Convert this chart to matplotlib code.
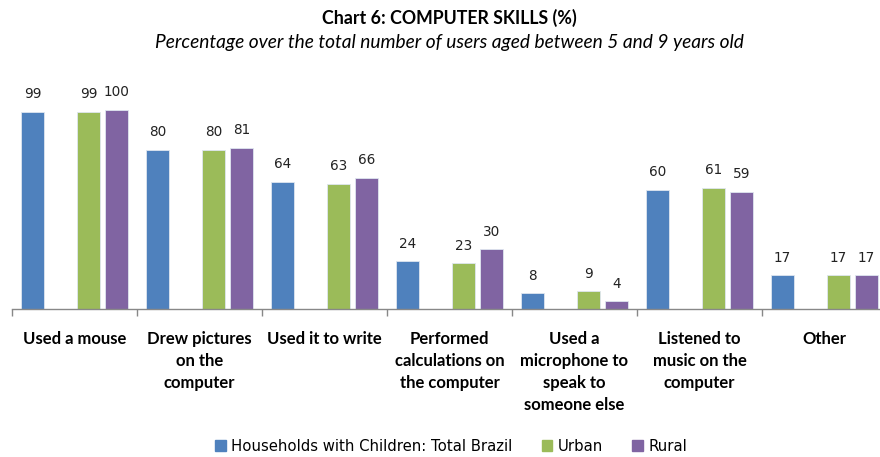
import matplotlib
matplotlib.use("Agg")
import matplotlib.pyplot as plt
import numpy as np

categories = [
    "Used a mouse",
    "Drew pictures\non the\ncomputer",
    "Used it to write",
    "Performed\ncalculations on\nthe computer",
    "Used a\nmicrophone to\nspeak to\nsomeone else",
    "Listened to\nmusic on the\ncomputer",
    "Other",
]
series_names = ["Households with Children: Total Brazil", "Urban", "Rural"]
total_brazil = [99, 80, 64, 24, 8, 60, 17]
urban = [99, 80, 63, 23, 9, 61, 17]
rural = [100, 81, 66, 30, 4, 59, 17]

colors = ["#4F81BD", "#9BBB59", "#8064A2"]
slots = [0, 2, 3]          # second slot of each group is left empty
n_slots = 4
slot_w = 0.224
bar_w = 0.184

label_font = "Lato"
value_font = "DejaVu Sans"

fig = plt.figure(figsize=(8.8, 4.57), dpi=100)
ax = fig.add_axes([12 / 880, 148 / 457, 875 / 880, 219 / 457])

x = np.arange(len(categories))
for vals, col, slot in zip([total_brazil, urban, rural], colors, slots):
    pos = x + 0.5 + (slot - (n_slots - 1) / 2) * slot_w
    bars = ax.bar(pos, vals, width=bar_w, color=col, edgecolor="#dfe6f0",
                  linewidth=0.6, zorder=2)
    for b, v in zip(bars, vals):
        ax.annotate(f"{v}", (b.get_x() + b.get_width() / 2, v),
                    xytext=(0, 7.5), textcoords="offset points",
                    ha="center", va="bottom", fontsize=9.8,
                    family=value_font, color="#222222")

ax.set_xlim(0, len(categories))
ax.set_ylim(0, 110)
ax.set_yticks([])
for s in ["top", "right", "left"]:
    ax.spines[s].set_visible(False)
ax.spines["bottom"].set_color("#888888")
ax.spines["bottom"].set_linewidth(1.0)

ax.set_xticks(np.arange(len(categories) + 1))
ax.set_xticklabels([])
ax.tick_params(axis="x", which="major", direction="out", length=5,
               color="#888888", width=1.0)
ax.set_xticks(x + 0.5, minor=True)
ax.set_xticklabels(categories, minor=True, fontsize=12, fontweight="bold",
                   family=label_font, linespacing=1.45, va="top")
ax.tick_params(axis="x", which="minor", length=0, pad=16)

fig.text(0.511, 0.960, "Chart 6: COMPUTER SKILLS (%)", ha="center", va="center",
         fontsize=12.8, fontweight="bold", family=label_font)
fig.text(0.511, 0.906,
         "Percentage over the total number of users aged between 5 and 9 years old",
         ha="center", va="center", fontsize=13.8, style="italic",
         family=label_font)

handles = [plt.Rectangle((0, 0), 1, 1, color=c) for c in colors]
fig.legend(handles, series_names, loc="center", bbox_to_anchor=(0.5125, 0.024),
           ncol=3, frameon=False, handlelength=0.7,
           handleheight=0.7, handletextpad=0.35, columnspacing=2.0,
           prop={"family": value_font, "size": 10.7})

fig.savefig("out.png", dpi=100)
